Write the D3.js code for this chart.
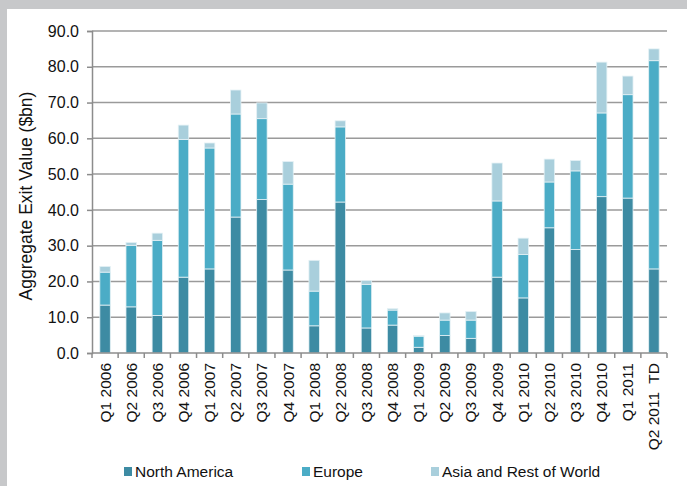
<!DOCTYPE html>
<html>
<head>
<meta charset="utf-8">
<script src="https://cdnjs.cloudflare.com/ajax/libs/d3/7.8.5/d3.min.js"></script>
<style>
  body { margin: 0; background: #c7c8ca; }
  .canvas { width: 687px; height: 486px; }
  text { font-family: "Liberation Sans", Arial, sans-serif; fill: #111; }
</style>
</head>
<body>
<div class="canvas"></div>
<script>
// quarters along the x axis
const quarters = [
  "Q1 2006", "Q2 2006", "Q3 2006", "Q4 2006", "Q1 2007", "Q2 2007", "Q3 2007", "Q4 2007",
  "Q1 2008", "Q2 2008", "Q3 2008", "Q4 2008", "Q1 2009", "Q2 2009", "Q3 2009", "Q4 2009",
  "Q1 2010", "Q2 2010", "Q3 2010", "Q4 2010", "Q1 2011", "Q2 2011  TD"
];

// exit values ($bn) per region
const northAmerica = [13.4, 12.9, 10.5, 21.2, 23.5, 38.0, 42.9, 23.2, 7.6, 42.2, 7.0,
  7.8, 1.6, 4.9, 4.1, 21.2, 15.4, 35.0, 28.9, 43.7, 43.3, 23.5];
const europe = [9.2, 17.2, 21.0, 38.5, 33.8, 28.8, 22.6, 24.0, 9.7, 21.0, 12.2,
  4.2, 3.1, 4.3, 5.1, 21.3, 12.1, 12.8, 22.0, 23.4, 28.9, 58.2];
const asiaRow = [1.6, 0.8, 2.0, 4.0, 1.4, 6.7, 4.4, 6.3, 8.6, 1.7, 1.1,
  0.4, 0.2, 2.0, 2.4, 10.6, 4.6, 6.4, 2.9, 14.2, 5.2, 3.3];

const seriesNames = ["North America", "Europe", "Asia and Rest of World"];
const colours = ["#3d8ba3", "#4bacc6", "#a9cfdc"];
const yTicks = [0, 10, 20, 30, 40, 50, 60, 70, 80, 90];

const width = 687;
const height = 486;
const margin = { top: 31, right: 20, bottom: 133, left: 92 };
const graphWidth = width - margin.left - margin.right;
const graphHeight = height - margin.top - margin.bottom;

const svg = d3.select(".canvas")
  .append("svg")
  .attr("width", width)
  .attr("height", height);

// white panel over the grey frame
svg.append("rect")
  .attr("x", 7)
  .attr("y", 9)
  .attr("width", width - 7)
  .attr("height", height - 9)
  .attr("fill", "#fff");

const graph = svg.append("g")
  .attr("transform", `translate(${margin.left}, ${margin.top})`);

const data = quarters.map((q, i) => ({
  quarter: q,
  "North America": northAmerica[i],
  "Europe": europe[i],
  "Asia and Rest of World": asiaRow[i]
}));

const stacked = d3.stack().keys(seriesNames)(data);

// scales
const x = d3.scaleBand()
  .domain(quarters)
  .range([0, graphWidth])
  .paddingInner(0.6)
  .paddingOuter(0.3);
const y = d3.scaleLinear().domain([0, 90]).range([graphHeight, 0]);

// gridlines
graph.append("g")
  .selectAll("line")
  .data(yTicks.slice(1))
  .enter()
  .append("line")
  .attr("x1", 0)
  .attr("x2", graphWidth)
  .attr("y1", d => y(d))
  .attr("y2", d => y(d))
  .attr("stroke", "#9a9a9a")
  .attr("stroke-width", 1.5);

// bars
graph.append("g")
  .selectAll("g")
  .data(stacked)
  .enter()
  .append("g")
  .attr("fill", (d, i) => colours[i])
  .selectAll("rect")
  .data(d => d)
  .enter()
  .append("rect")
  .attr("x", d => x(d.data.quarter))
  .attr("width", x.bandwidth())
  .attr("y", d => y(d[1]))
  .attr("height", d => y(d[0]) - y(d[1]))
  .attr("stroke", "#e4f1f5")
  .attr("stroke-width", 0.8);

// y axis
const yAxisGroup = graph.append("g")
  .call(d3.axisLeft(y).tickValues(yTicks).tickFormat(d3.format(".1f")).tickSize(5).tickPadding(8));
yAxisGroup.select(".domain").attr("stroke", "#8c8c8c").attr("stroke-width", 1.5);
yAxisGroup.selectAll(".tick line").attr("stroke", "#8c8c8c").attr("stroke-width", 1.5);
yAxisGroup.selectAll("text").attr("font-size", 16).attr("fill", "#111");

// x axis: ticks sit between the categories
const xAxisGroup = graph.append("g")
  .attr("transform", `translate(0, ${graphHeight})`);
xAxisGroup.append("line")
  .attr("x1", 0)
  .attr("x2", graphWidth)
  .attr("stroke", "#8c8c8c")
  .attr("stroke-width", 1.5);
const step = x.step();
xAxisGroup.selectAll(".xtick")
  .data(d3.range(quarters.length + 1))
  .enter()
  .append("line")
  .attr("class", "xtick")
  .attr("x1", i => i === quarters.length ? graphWidth : x(quarters[0]) - step * 0.3 + i * step)
  .attr("x2", i => i === quarters.length ? graphWidth : x(quarters[0]) - step * 0.3 + i * step)
  .attr("y1", 0)
  .attr("y2", 5)
  .attr("stroke", "#8c8c8c")
  .attr("stroke-width", 1.5);

xAxisGroup.selectAll(".xlabel")
  .data(quarters)
  .enter()
  .append("text")
  .attr("class", "xlabel")
  .attr("transform", d => `translate(${x(d) + x.bandwidth() / 2 + 5.5}, 10) rotate(-90)`)
  .attr("text-anchor", "end")
  .attr("font-size", 15.5)
  .style("white-space", "pre")
  .text(d => d);

// y axis title
svg.append("text")
  .attr("transform", "translate(32, 196) rotate(-90)")
  .attr("text-anchor", "middle")
  .attr("font-size", 17.5)
  .text("Aggregate Exit Value ($bn)");

// legend
const legendX = [124, 302, 431];
const legend = svg.append("g")
  .selectAll("g")
  .data(seriesNames)
  .enter()
  .append("g")
  .attr("transform", (d, i) => `translate(${legendX[i]}, 467)`);
legend.append("rect")
  .attr("width", 8)
  .attr("height", 9)
  .attr("fill", (d, i) => colours[i]);
legend.append("text")
  .attr("x", 11)
  .attr("y", 9.5)
  .attr("font-size", 15.5)
  .text(d => d);
</script>
</body>
</html>
